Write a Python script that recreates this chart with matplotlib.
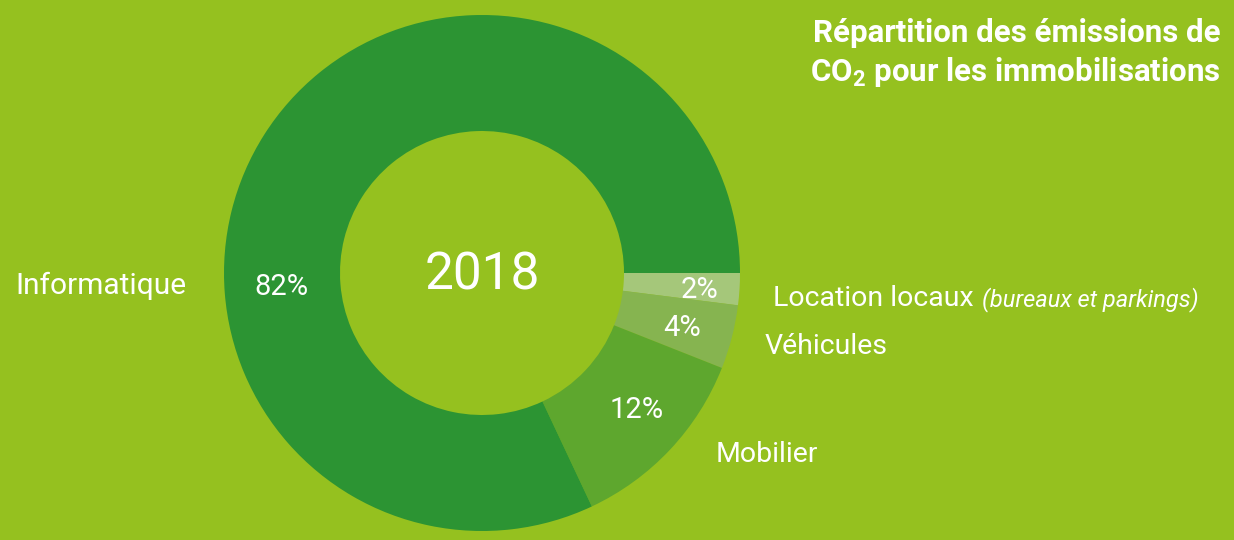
import matplotlib.pyplot as plt

plt.rcParams['font.family'] = ['Roboto', 'DejaVu Sans']
plt.rcParams['mathtext.fontset'] = 'custom'
plt.rcParams['mathtext.rm'] = 'Roboto'
plt.rcParams['mathtext.bf'] = 'Roboto:bold'

# data (clockwise from 3 o'clock)
categories = ['Location locaux', 'Véhicules', 'Mobilier', 'Informatique']
shares = [2, 4, 12, 82]
pct_labels = ['2%', '4%', '12%', '82%']
colors = ['#a5c77a', '#86b450', '#5ea72e', '#2c9433']
bg = '#95c11f'

W, H = 1234, 540
fig = plt.figure(figsize=(W / 100, H / 100), dpi=100, facecolor=bg)

# donut centred at (482, 273) px, outer radius 258 px
cx, cy, r = 482, 273, 258
ax = fig.add_axes([(cx - r) / W, (H - cy - r) / H, 2 * r / W, 2 * r / H])
ax.set_facecolor(bg)
ax.pie(shares, colors=colors, startangle=0, counterclock=False, radius=1,
       wedgeprops=dict(width=(258 - 142) / 258, linewidth=0))
ax.set_xlim(-1, 1)
ax.set_ylim(-1, 1)
ax.axis('off')


def px(x, y):
    return x / W, 1 - y / H


white = 'white'
fig.text(*px(482, 275), '2018', color=white, fontsize=37, ha='center', va='center')

# percent labels inside the ring
pct_pos = [(700, 290), (682, 328), (637, 410), (281, 287)]
for (x, y), t in zip(pct_pos, pct_labels):
    fig.text(*px(x, y), t, color=white, fontsize=21, ha='center', va='center')

# category labels
fig.text(*px(773, 299), 'Location locaux', color=white, fontsize=20.5, ha='left', va='center')
fig.text(*px(982, 300), '(bureaux et parkings)', color=white, fontsize=17,
         style='italic', ha='left', va='center')
fig.text(*px(765, 346), 'Véhicules', color=white, fontsize=20.5, ha='left', va='center')
fig.text(*px(716, 454), 'Mobilier', color=white, fontsize=20.5, ha='left', va='center')
fig.text(*px(187, 286), 'Informatique', color=white, fontsize=21.5, ha='right', va='center')

# title
fig.text(*px(1221, 33), 'Répartition des émissions de', color=white, fontsize=22.5,
         fontweight='bold', ha='right', va='center')
fig.text(*px(1221, 72), r'CO$_\mathbf{2}$ pour les immobilisations', color=white,
         fontsize=22.5, fontweight='bold', ha='right', va='center')

fig.savefig('out.png', dpi=100, facecolor=bg)
